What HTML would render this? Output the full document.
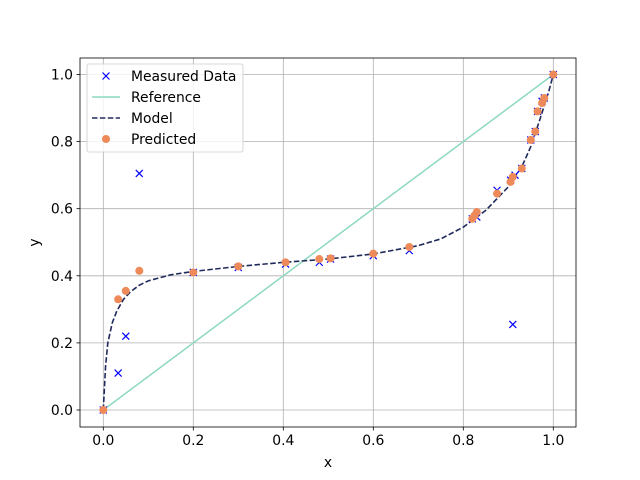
<!DOCTYPE html><html><head><style>body{margin:0;background:#fff}svg{display:block;font-family:"DejaVu Sans","Liberation Sans",sans-serif}</style></head><body>
<svg id="s" width="640" height="480" xmlns="http://www.w3.org/2000/svg"></svg>
<script>
const s=document.getElementById('s');let h='';
const X=v=>103.3+v*450, Y=v=>410-v*335.5;
const F=13.9;
h+='<rect x="80" y="58" width="496" height="369" fill="#fff"/>';
for(let i=0;i<=5;i++){let v=i/5,x=X(v),y=Y(v);
h+=`<line x1="${x}" y1="58" x2="${x}" y2="427" stroke="#b0b0b0" stroke-width="0.8"/><line x1="80" y1="${y}" x2="576" y2="${y}" stroke="#b0b0b0" stroke-width="0.8"/>`;
h+=`<line x1="${x}" y1="427" x2="${x}" y2="430.5" stroke="#000" stroke-width="0.8"/><text x="${x}" y="445" font-size="${F}" text-anchor="middle">${v.toFixed(1)}</text>`;
h+=`<line x1="76.5" y1="${y}" x2="80" y2="${y}" stroke="#000" stroke-width="0.8"/><text x="73" y="${y+5}" font-size="${F}" text-anchor="end">${v.toFixed(1)}</text>`;}
h+=`<line x1="${X(0)}" y1="${Y(0)}" x2="${X(1)}" y2="${Y(1)}" stroke="#8dd9c0" stroke-width="1.5"/>`;
const m=[[0,0],[0.005,0.13],[0.01,0.2],[0.02,0.26],[0.03,0.295],[0.045,0.33],[0.06,0.352],[0.08,0.372],[0.1,0.385],[0.15,0.403],[0.2,0.413],[0.3,0.428],[0.4,0.44],[0.5,0.45],[0.6,0.465],[0.7,0.49],[0.75,0.51],[0.8,0.545],[0.85,0.595],[0.9,0.665],[0.93,0.725],[0.95,0.785],[0.97,0.865],[0.99,0.95],[1,1]];
h+=`<polyline fill="none" stroke="#1f2a5c" stroke-width="1.6" stroke-dasharray="5.5,2.4" points="${m.map(p=>X(p[0])+','+Y(p[1])).join(' ')}"/>`;
const md=[[0,0],[0.033,0.11],[0.05,0.22],[0.08,0.705],[0.2,0.41],[0.3,0.425],[0.405,0.435],[0.48,0.44],[0.505,0.45],[0.6,0.46],[0.68,0.475],[0.82,0.57],[0.83,0.575],[0.875,0.655],[0.91,0.255],[0.905,0.685],[0.915,0.7],[0.93,0.72],[0.95,0.805],[0.96,0.83],[0.965,0.89],[0.975,0.92],[0.98,0.93],[1,1]];
const cross=(x,y)=>`<path d="M${x-3.5},${y-3.5}L${x+3.5},${y+3.5}M${x-3.5},${y+3.5}L${x+3.5},${y-3.5}" stroke="#0000ff" stroke-width="1.2"/>`;
md.forEach(p=>h+=cross(X(p[0]),Y(p[1])));
const pr=[[0,0],[0.033,0.33],[0.05,0.355],[0.08,0.415],[0.2,0.41],[0.3,0.428],[0.405,0.44],[0.48,0.45],[0.505,0.452],[0.6,0.466],[0.68,0.486],[0.82,0.57],[0.825,0.58],[0.83,0.59],[0.875,0.645],[0.905,0.68],[0.91,0.695],[0.93,0.72],[0.95,0.805],[0.96,0.83],[0.965,0.89],[0.975,0.915],[0.98,0.93],[1,1]];
pr.forEach(p=>h+=`<circle cx="${X(p[0])}" cy="${Y(p[1])}" r="4" fill="#ee8a5a"/>`);
h+='<rect x="80" y="58" width="496" height="369" fill="none" stroke="#000" stroke-width="0.8"/>';
h+=`<text x="328" y="467" font-size="${F}" text-anchor="middle">x</text><text x="39" y="242.5" font-size="${F}" text-anchor="middle" transform="rotate(-90 39 242.5)">y</text>`;
h+='<rect x="87" y="64" width="156" height="88" rx="2" fill="#fff" fill-opacity="0.8" stroke="#ccc" stroke-width="0.8"/>';
const L=[76,97,118,139],lab=['Measured Data','Reference','Model','Predicted'];
h+=cross(106,L[0]);
h+=`<line x1="92" y1="${L[1]}" x2="120" y2="${L[1]}" stroke="#8dd9c0" stroke-width="1.5"/>`;
h+=`<line x1="92" y1="${L[2]}" x2="120" y2="${L[2]}" stroke="#1f2a5c" stroke-width="1.6" stroke-dasharray="5.5,2.4"/>`;
h+=`<circle cx="106" cy="${L[3]}" r="4" fill="#ee8a5a"/>`;
lab.forEach((t,i)=>h+=`<text x="131" y="${L[i]+5}" font-size="${F}">${t}</text>`);
s.innerHTML=h;
</script></body></html>
